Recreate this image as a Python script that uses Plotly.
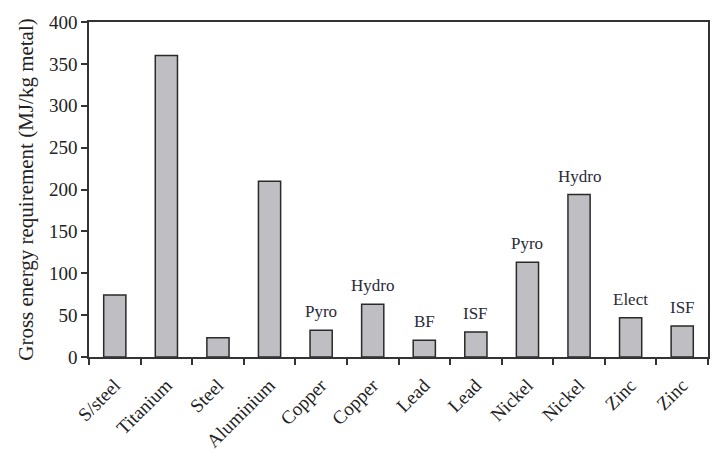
import plotly.graph_objects as go

metals = ["S/steel", "Titanium", "Steel", "Aluminium", "Copper", "Copper",
          "Lead", "Lead", "Nickel", "Nickel", "Zinc", "Zinc"]
energy = [74, 360, 23, 210, 32, 63, 20, 30, 113, 194, 47, 37]
process = ["", "", "", "", "Pyro", "Hydro", "BF", "ISF", "Pyro", "Hydro", "Elect", "ISF"]
y_ticks = [0, 50, 100, 150, 200, 250, 300, 350, 400]

xpos = list(range(len(metals)))
font_family = "Liberation Serif, Times New Roman, serif"

fig = go.Figure()
fig.add_trace(go.Bar(
    x=xpos, y=energy, width=0.43,
    marker=dict(color="#bfbfc3", line=dict(color="#2a2a2a", width=1.5)),
    showlegend=False,
))

for xi, v, p in zip(xpos, energy, process):
    if p:
        fig.add_annotation(x=xi, y=v, text=p, showarrow=False, yanchor="bottom",
                           yshift=7, font=dict(family=font_family, size=17, color="#2a2a3a"))

fig.update_layout(
    width=718, height=452,
    margin=dict(l=89, r=10, t=22, b=95),
    paper_bgcolor="white", plot_bgcolor="white",
    font=dict(family=font_family, color="#222222"),
    bargap=0.5,
)
fig.update_xaxes(
    range=[-0.5, 11.5], tickmode="array", tickvals=xpos, ticktext=metals,
    tickangle=-45, ticks="outside", ticklen=8, tickcolor="rgba(0,0,0,0)",
    tickfont=dict(size=19), automargin=False,
    showline=True, linecolor="#333333", linewidth=1.5, mirror=True,
    showgrid=False, zeroline=False,
    minor=dict(tickmode="linear", tick0=-0.5, dtick=1, ticks="outside",
               ticklen=6, tickcolor="#333333", tickwidth=1.5, showgrid=False),
)
fig.update_yaxes(
    range=[0, 400], tickmode="array", tickvals=y_ticks,
    ticks="outside", ticklen=6, tickcolor="#333333", tickwidth=1.5,
    tickfont=dict(size=19), automargin=False,
    showline=True, linecolor="#333333", linewidth=1.5, mirror=True,
    showgrid=False, zeroline=False,
    title=dict(text="Gross energy requirement (MJ/kg metal)", font=dict(size=21), standoff=10),
)

fig.write_html("out.html")
